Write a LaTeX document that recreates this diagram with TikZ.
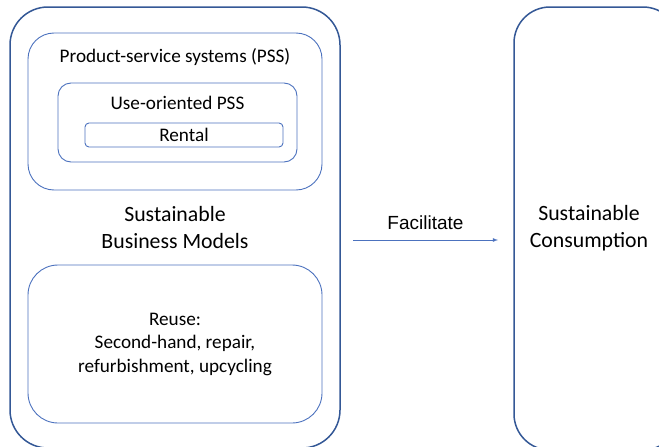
\documentclass[tikz,border=0pt]{standalone}
\usepackage{fontspec}
\setmainfont{Carlito}
\newfontfamily\arialfont{Liberation Sans}
\usepackage{tikz}
\usetikzlibrary{shapes,arrows,positioning,fit,backgrounds}
\usepackage{xcolor}
\definecolor{outerblue}{RGB}{52,88,150}
\definecolor{innerblue}{RGB}{76,114,190}

\begin{document}
\begin{tikzpicture}[x=1pt, y=-1pt,
    outerbox/.style={draw=outerblue, line width=1.5pt, rounded corners=38pt, inner sep=0pt},
    innerbox/.style={draw=innerblue, line width=0.9pt, inner sep=0pt},
    label/.style={font=\fontsize{19.2}{23.5}\selectfont, align=center},
    biglabel/.style={font=\fontsize{21.8}{27}\selectfont, align=center}]
    \useasboundingbox (0,0) rectangle (659,447);
    \clip (0,0) rectangle (659,447);

    % left side: business models
    \node[outerbox, minimum width=330pt, minimum height=441pt, biglabel] (sbm) at (175,227.5) {Sustainable\\Business Models};
    \node[innerbox, rounded corners=26pt, minimum width=294pt, minimum height=157pt] (pss) at (175,111.5) {};
    \node[label] (psstext) at (175,57) {Product-service systems (PSS)};
    \node[innerbox, rounded corners=13pt, minimum width=239pt, minimum height=79pt] (use) at (177.5,122.5) {};
    \node[label] (usetext) at (177.5,103) {Use-oriented PSS};
    \node[innerbox, rounded corners=4pt, minimum width=198pt, minimum height=24pt, label] (rental) at (184,135) {Rental};
    \node[innerbox, rounded corners=30pt, minimum width=294pt, minimum height=158pt, label] (reuse) at (175,344) {Reuse:\\Second-hand, repair,\\refurbishment, upcycling};

    % right side: consumption
    \node[outerbox, rounded corners=36pt, minimum width=165pt, minimum height=443pt] (cons) at (596.5,228.5) {};
    \node[biglabel] (constext) at (589,228) {Sustainable\\Consumption};

    % arrow
    \coordinate (fstart) at (353,240);
    \coordinate (fend) at (498,240);
    \draw[-latex, draw=innerblue, line width=0.8pt] (fstart) -- node[above=7pt, font=\arialfont\fontsize{19}{22}\selectfont] (facil) {Facilitate} (fend);
\end{tikzpicture}
\end{document}
